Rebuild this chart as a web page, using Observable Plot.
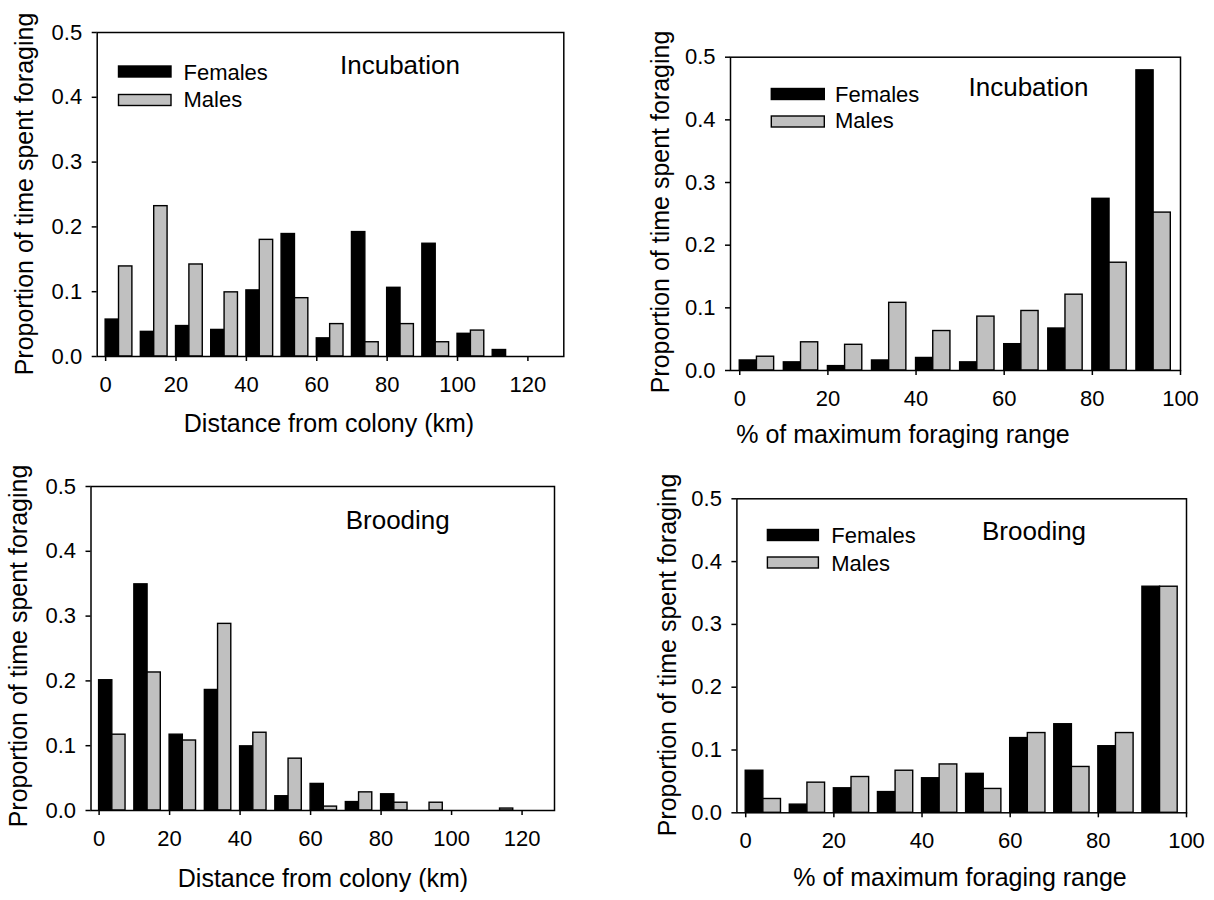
<!DOCTYPE html>
<html><head><meta charset="utf-8">
<script src="https://cdn.jsdelivr.net/npm/d3@7"></script>
<script src="https://cdn.jsdelivr.net/npm/@observablehq/plot@0.6"></script>
<style>
body{margin:0;background:#fff;}
#wrap{position:relative;width:1214px;height:900px;overflow:hidden;background:#fff;}
#wrap svg{position:absolute;}
</style></head><body><div id="wrap"></div>
<script>
// ---- data ----
const kmBins = [0,10,20,30,40,50,60,70,80,90,100,110,120];
const pctBins = [0,10,20,30,40,50,60,70,80,90];
const incKmFemales = [0.057,0.038,0.047,0.041,0.102,0.189,0.028,0.192,0.106,0.174,0.035,0.010,0];
const incKmMales   = [0.139,0.232,0.142,0.099,0.180,0.090,0.050,0.022,0.050,0.022,0.040,0,0];
const incPctFemales = [0.016,0.013,0.007,0.016,0.020,0.013,0.042,0.067,0.274,0.479];
const incPctMales   = [0.022,0.045,0.041,0.108,0.063,0.086,0.095,0.121,0.172,0.252];
const broKmFemales = [0.201,0.349,0.117,0.186,0.099,0.022,0.041,0.013,0.025,0,0,0,0];
const broKmMales   = [0.117,0.213,0.108,0.288,0.120,0.080,0.006,0.028,0.012,0.012,0,0.003,0];
const broPctFemales = [0.067,0.013,0.039,0.033,0.055,0.062,0.119,0.141,0.106,0.360];
const broPctMales   = [0.022,0.048,0.057,0.067,0.077,0.038,0.127,0.073,0.127,0.360];
const yTicks = [0,0.1,0.2,0.3,0.4,0.5];
const kmTicks = [0,20,40,60,80,100,120];
const pctTicks = [0,20,40,60,80,100];
const seriesNames = ["Females","Males"];
const yLabel = "Proportion of time spent foraging";
const kmLabel = "Distance from colony (km)";
const pctLabel = "% of maximum foraging range";
const stageNames = ["Incubation","Brooding"];

// ---- styles ----
const FONT = "'Liberation Sans', Arial, Helvetica, sans-serif";
const fillOf = {Females: "#000000", Males: "#c0c0c0"};

function makePanel(cfg) {
  const w = cfg.barW;
  const rows = cfg.bins.flatMap((b, i) => [
    {x1: b, x2: b + w, y: cfg.females[i], s: seriesNames[0]},
    {x1: b + w, x2: b + 2 * w, y: cfg.males[i], s: seriesNames[1]}
  ]).filter(d => d.y > 0);

  const svg = Plot.plot({
    width: cfg.width, height: cfg.height,
    marginLeft: cfg.ml, marginRight: cfg.mr, marginTop: cfg.mt, marginBottom: cfg.mb,
    style: {fontFamily: FONT, fontSize: "22px", color: "#000", background: "transparent", overflow: "visible"},
    x: {domain: cfg.xDomain},
    y: {domain: [0, 0.5]},
    marks: [
      Plot.rectY(rows, {x1: "x1", x2: "x2", y: "y", fill: d => fillOf[d.s], stroke: "#000", strokeWidth: 1.4}),
      Plot.frame({stroke: "#000", strokeWidth: 1.5}),
      Plot.axisX({ticks: cfg.xTicks, tickSize: 5, tickPadding: 15, strokeWidth: 1.5, fontSize: 22, label: null}),
      Plot.axisY({ticks: yTicks, tickFormat: d3.format(".1f"), tickSize: 5, tickPadding: 10, strokeWidth: 1.5, fontSize: 22, label: null})
    ]
  });
  svg.style.left = cfg.left + "px";
  svg.style.top = cfg.top + "px";
  const s = d3.select(svg);
  // y label
  s.append("text")
    .attr("transform", `translate(${cfg.yl[0]},${cfg.yl[1]}) rotate(-90)`)
    .attr("text-anchor", "middle").attr("dy", "0.26em")
    .attr("font-family", FONT).attr("font-size", 25).attr("fill", "#000")
    .text(yLabel);
  // x label
  s.append("text")
    .attr("x", cfg.xl[0]).attr("y", cfg.xl[1])
    .attr("text-anchor", "middle")
    .attr("font-family", FONT).attr("font-size", 25).attr("fill", "#000")
    .text(cfg.xLabel);
  // stage title
  s.append("text")
    .attr("x", cfg.title[0]).attr("y", cfg.title[1])
    .attr("text-anchor", "start")
    .attr("font-family", FONT).attr("font-size", 26).attr("fill", "#000")
    .text(cfg.stage);
  // legend
  if (cfg.legend) {
    const L = cfg.legend;
    seriesNames.forEach((name, i) => {
      s.append("rect")
        .attr("x", L.x).attr("y", L.boxY[i]).attr("width", L.w).attr("height", L.h)
        .attr("fill", fillOf[name]).attr("stroke", "#000").attr("stroke-width", 1.4);
      s.append("text")
        .attr("x", L.tx).attr("y", L.ty[i])
        .attr("text-anchor", "start")
        .attr("font-family", FONT).attr("font-size", 22).attr("fill", "#000")
        .text(name);
    });
  }
  document.getElementById("wrap").appendChild(svg);
}

makePanel({
  left: 0, top: 0, width: 607, height: 450,
  ml: 96.7, mr: 43.7, mt: 32, mb: 94,
  xDomain: [-2.4, 130.2], xTicks: kmTicks, bins: kmBins, barW: 3.8,
  females: incKmFemales, males: incKmMales,
  xLabel: kmLabel, stage: stageNames[0],
  yl: [26, 194], xl: [329, 432], title: [340, 74],
  legend: {x: 118.5, w: 52.5, h: 11, boxY: [66, 94.5], tx: 183.5, ty: [80, 106.5]}
});
makePanel({
  left: 607, top: 0, width: 607, height: 450,
  ml: 123, mr: 34, mt: 56.7, mb: 80,
  xDomain: [-2.1, 100], xTicks: pctTicks, bins: pctBins, barW: 3.9,
  females: incPctFemales, males: incPctMales,
  xLabel: pctLabel, stage: stageNames[0],
  yl: [55, 212], xl: [296, 443], title: [361.5, 96],
  legend: {x: 164.3, w: 53, h: 11, boxY: [88.5, 116], tx: 228, ty: [101.5, 128]}
});
makePanel({
  left: 0, top: 450, width: 607, height: 450,
  ml: 90.5, mr: 53, mt: 36, mb: 90,
  xDomain: [-2.3, 129.2], xTicks: kmTicks, bins: kmBins, barW: 3.75,
  females: broKmFemales, males: broKmMales,
  xLabel: kmLabel, stage: stageNames[1],
  yl: [20, 196], xl: [323, 437], title: [345.7, 79.3],
  legend: null
});
makePanel({
  left: 607, top: 450, width: 607, height: 450,
  ml: 129.4, mr: 28, mt: 48.3, mb: 87.7,
  xDomain: [-2, 100], xTicks: pctTicks, bins: pctBins, barW: 4.0,
  females: broPctFemales, males: broPctMales,
  xLabel: pctLabel, stage: stageNames[1],
  yl: [62, 205], xl: [353, 436], title: [375, 90],
  legend: {x: 160.4, w: 51, h: 11, boxY: [79.5, 107], tx: 224.3, ty: [93, 120.5]}
});
</script></body></html>
